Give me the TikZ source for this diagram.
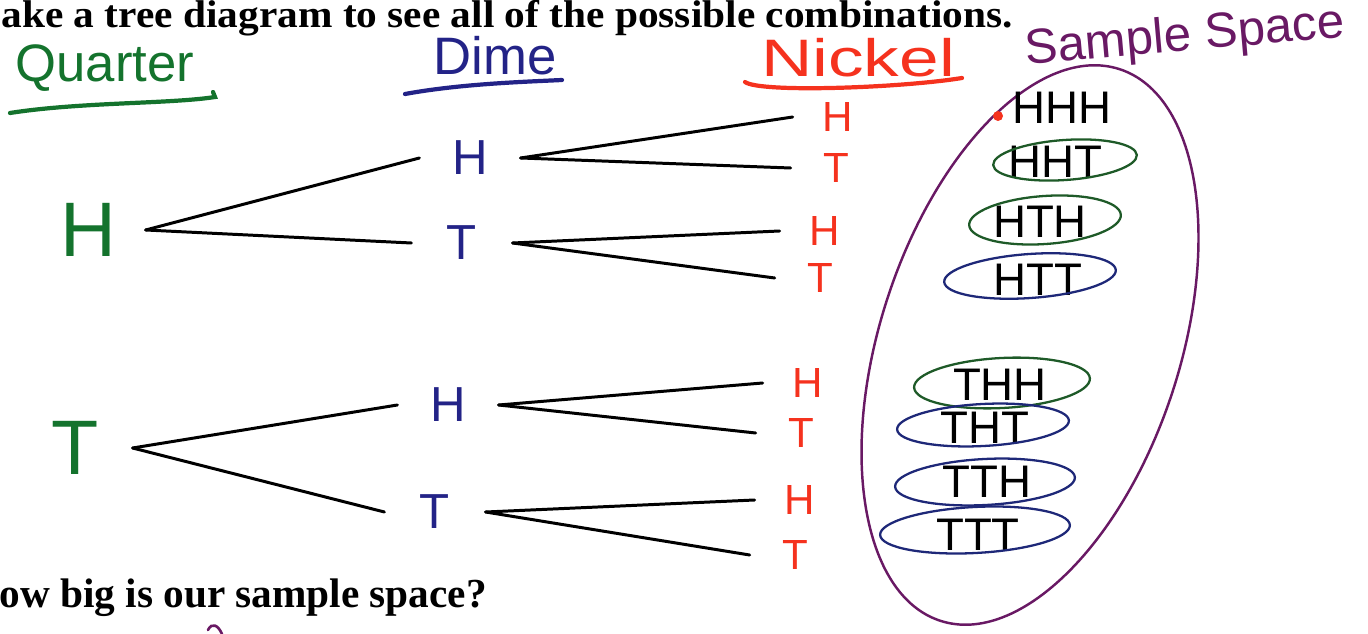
\documentclass[tikz,border=0pt]{standalone}
\usepackage{fontspec}
\setmainfont{Liberation Serif}
\newfontfamily\handfont{Liberation Sans}
\usetikzlibrary{positioning}

\definecolor{qgreen}{RGB}{20,115,45}
\definecolor{dblue}{RGB}{35,35,135}
\definecolor{nred}{RGB}{245,50,30}
\definecolor{spurple}{RGB}{105,25,100}
\definecolor{rgreen}{RGB}{30,90,40}
\definecolor{rblue}{RGB}{30,40,120}

\tikzset{
  coin/.style={inner sep=0pt, font=\handfont\fontsize{#1pt}{#1pt}\selectfont},
  quarterlbl/.style={coin=44, text=qgreen, minimum width=64pt},
  dimelbl/.style={coin=28, text=dblue, minimum width=56pt},
  nickellbl/.style={coin=24, text=nred, minimum width=50pt},
  outcome/.style={coin=26, text=black},
  header/.style={inner sep=0pt, font=\handfont\fontsize{30pt}{30pt}\selectfont},
  branch/.style={line width=1.7pt, line cap=round},
  ring/.style={line width=1.3pt},
  printed/.style={inner sep=0pt, anchor=base west, text height=0.69em, font=\bfseries\fontsize{22pt}{24pt}\selectfont}
}

\begin{document}
\begin{tikzpicture}[x=0.02cm, y=-0.02cm, line width=1.6pt]
    \useasboundingbox (0,0) rectangle (1368,634);
    \clip (0,0) rectangle (1368,634);

    % Printed text
    \node[printed, xscale=1.07] (title) at (0,28) {ake a tree diagram to see all of the possible combinations.};
    \node[printed, font=\bfseries\fontsize{23.5pt}{24pt}\selectfont] (question) at (-2,607) {ow big is our sample space?};

    % Headers
    \node[header, text=qgreen] (quarter) at (105,68) {Quarter};
    \node[header, text=dblue] (dime) at (495,56) {Dime};
    \node[header, text=nred, xscale=1.35] (nickel) at (858,58) {Nickel};
    \node[header, text=spurple, rotate=5, font=\handfont\fontsize{28pt}{28pt}\selectfont] (space) at (1185,38) {Sample Space};
    \draw[qgreen, line width=2.4pt, line cap=round] (10,113) .. controls (80,102) and (170,104) .. (215,97) -- (213,92);
    \draw[dblue, line width=2.4pt, line cap=round] (405,94) .. controls (460,84) and (520,82) .. (562,80);
    \draw[nred, line width=2.4pt, line cap=round] (745,82) .. controls (760,93) and (900,88) .. (962,78);

    % Quarter
    \node[quarterlbl] (qH) at (88,230) {H};
    \node[quarterlbl] (qT) at (75,448) {T};

    % Dime
    \node[dimelbl] (dH1) at (470,158) {H};
    \node[dimelbl] (dT1) at (462,243) {T};
    \node[dimelbl] (dH2) at (448,405) {H};
    \node[dimelbl] (dT2) at (435,512) {T};

    % Nickel
    \node[nickellbl] (n1) at (838,117) {H};
    \node[nickellbl] (n2) at (836,168) {T};
    \node[nickellbl] (n3) at (825,231) {H};
    \node[nickellbl] (n4) at (820,278) {T};
    \node[nickellbl] (n5) at (808,383) {H};
    \node[nickellbl] (n6) at (801,433) {T};
    \node[nickellbl] (n7) at (800,500) {H};
    \node[nickellbl] (n8) at (795,555) {T};

    % Branches
    \draw[branch] (qH.east) -- (dH1.west);
    \draw[branch] (qH.east) -- (dT1.west);
    \draw[branch] (qT.east) -- (dH2.west);
    \draw[branch] (qT.east) -- (dT2.west);
    \draw[branch] (dH1.east) -- (n1.west);
    \draw[branch] (dH1.east) -- (n2.west);
    \draw[branch] (dT1.east) -- (n3.west);
    \draw[branch] (dT1.east) -- (n4.west);
    \draw[branch] (dH2.east) -- (n5.west);
    \draw[branch] (dH2.east) -- (n6.west);
    \draw[branch] (dT2.east) -- (n7.west);
    \draw[branch] (dT2.east) -- (n8.west);

    % Sample space
    \draw[spurple, line width=1.4pt, rotate around={-18:(1030,345)}] (1030,345) ellipse [x radius=150, y radius=290];
    \node[outcome] (o1) at (1062,108) {HHH};
    \node[outcome] (o2) at (1055,162) {HHT};
    \node[outcome] (o3) at (1040,222) {HTH};
    \node[outcome] (o4) at (1038,280) {HTT};
    \node[outcome] (o5) at (1000,385) {THH};
    \node[outcome] (o6) at (985,428) {THT};
    \node[outcome] (o7) at (987,482) {TTH};
    \node[outcome] (o8) at (978,535) {TTT};
    \fill[nred] (998,116) circle (5);

    % Rings
    \draw[ring, rgreen, rotate around={4:(1065,160)}] (1065,160) ellipse [x radius=72, y radius=20];
    \draw[ring, rgreen, rotate around={4:(1045,220)}] (1045,220) ellipse [x radius=76, y radius=24];
    \draw[ring, rblue, rotate around={4:(1030,276)}] (1030,276) ellipse [x radius=86, y radius=22];
    \draw[ring, rgreen, rotate around={3:(1002,383)}] (1002,383) ellipse [x radius=88, y radius=25];
    \draw[ring, rblue, rotate around={3:(983,425)}] (983,425) ellipse [x radius=86, y radius=21];
    \draw[ring, rblue, rotate around={3:(985,482)}] (985,482) ellipse [x radius=90, y radius=23];
    \draw[ring, rblue, rotate around={3:(975,530)}] (975,530) ellipse [x radius=95, y radius=23];

    % Stray mark
    \draw[spurple, line width=1.5pt, line cap=round] (208,630) .. controls (212,622) and (218,625) .. (222,634);
\end{tikzpicture}
\end{document}
